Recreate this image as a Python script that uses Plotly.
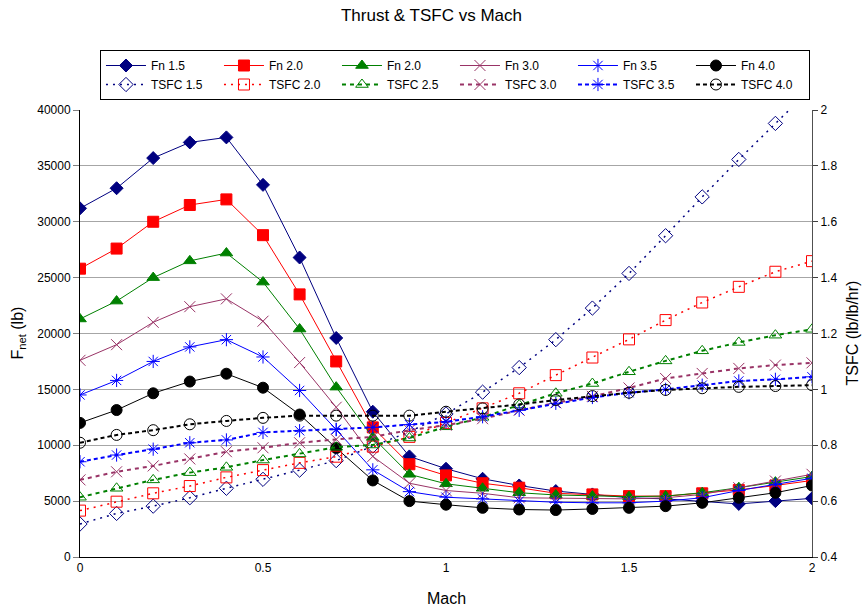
import plotly.graph_objects as go

mach = [0.0, 0.1, 0.2, 0.3, 0.4, 0.5, 0.6, 0.7, 0.8, 0.9, 1.0,
        1.1, 1.2, 1.3, 1.4, 1.5, 1.6, 1.7, 1.8, 1.9, 2.0]

fn_15 = [31200, 33000, 35700, 37100, 37550, 33300, 26800, 19600, 13000, 9000, 7900,
         7000, 6400, 5900, 5600, 5300, 5200, 4950, 4750, 5000, 5250]
fn_20 = [25800, 27600, 30000, 31500, 32000, 28800, 23500, 17500, 11600, 8300, 7300,
         6600, 6200, 5700, 5600, 5450, 5450, 5700, 6000, 6400, 6850]
fn_25 = [21300, 22900, 25000, 26500, 27200, 24600, 20400, 15200, 10700, 7400, 6550,
         6150, 5750, 5550, 5450, 5400, 5450, 5750, 6200, 6700, 7200]
fn_30 = [17600, 19000, 21000, 22400, 23100, 21100, 17400, 13400, 9000, 6600, 5950,
         5700, 5300, 5250, 5200, 5200, 5300, 5600, 6200, 6800, 7400]
fn_35 = [14500, 15800, 17500, 18800, 19450, 17900, 14900, 11400, 7800, 5850, 5350,
         5200, 5000, 4900, 4850, 4850, 5000, 5300, 5950, 6500, 7050]
fn_40 = [12000, 13150, 14650, 15700, 16400, 15150, 12750, 9750, 6850, 5000, 4680,
         4400, 4250, 4200, 4300, 4400, 4550, 4850, 5300, 5750, 6400]

tsfc_15 = [0.518, 0.556, 0.582, 0.612, 0.646, 0.678, 0.711, 0.745, 0.797, 0.848, 0.912,
           0.990, 1.078, 1.178, 1.291, 1.415, 1.550, 1.689, 1.823, 1.952, 2.080]
tsfc_20 = [0.566, 0.598, 0.628, 0.654, 0.685, 0.711, 0.737, 0.759, 0.795, 0.830, 0.880,
           0.932, 0.986, 1.051, 1.114, 1.179, 1.248, 1.311, 1.367, 1.421, 1.459]
tsfc_25 = [0.614, 0.646, 0.676, 0.702, 0.721, 0.747, 0.769, 0.793, 0.801, 0.826, 0.866,
           0.900, 0.944, 0.986, 1.021, 1.063, 1.102, 1.138, 1.168, 1.194, 1.215]
tsfc_30 = [0.676, 0.705, 0.726, 0.751, 0.777, 0.791, 0.809, 0.821, 0.830, 0.854, 0.872,
           0.895, 0.925, 0.952, 0.975, 1.005, 1.039, 1.057, 1.075, 1.087, 1.095]
tsfc_35 = [0.741, 0.765, 0.786, 0.809, 0.819, 0.846, 0.852, 0.857, 0.864, 0.874, 0.884,
           0.902, 0.925, 0.950, 0.971, 0.988, 1.000, 1.015, 1.030, 1.036, 1.045]
tsfc_40 = [0.809, 0.837, 0.854, 0.875, 0.887, 0.898, 0.906, 0.906, 0.906, 0.906, 0.920,
           0.932, 0.946, 0.962, 0.976, 0.988, 0.998, 1.004, 1.009, 1.012, 1.015]

fn_names = ["Fn 1.5", "Fn 2.0", "Fn 2.0", "Fn 3.0", "Fn 3.5", "Fn 4.0"]
tsfc_names = ["TSFC 1.5", "TSFC 2.0", "TSFC 2.5", "TSFC 3.0", "TSFC 3.5", "TSFC 4.0"]
fn_series = [fn_15, fn_20, fn_25, fn_30, fn_35, fn_40]
tsfc_series = [tsfc_15, tsfc_20, tsfc_25, tsfc_30, tsfc_35, tsfc_40]

colors = ["#000080", "#FF0000", "#008000", "#993366", "#0000FF", "#000000"]
fn_symbols = ["diamond", "square", "triangle-up", "x-thin", "asterisk", "circle"]
fn_sizes = [10, 11, 11, 11, 11, 11]
tsfc_symbols = ["diamond-open", "square-open", "triangle-up-open", "x-thin-open",
                "asterisk-open", "circle-open"]
tsfc_dash = ["2px,5px", "2px,5px", "4px,4px", "4px,4px", "4px,3px", "4px,3px"]
tsfc_lw = [1.5, 1.5, 2, 2, 2, 2]

fig = go.Figure()
for name, ys, c, s, sz in zip(fn_names, fn_series, colors, fn_symbols, fn_sizes):
    fig.add_trace(go.Scatter(
        x=mach, y=ys, name=name, mode="lines+markers",
        line=dict(color=c, width=1),
        marker=dict(symbol=s, size=sz, color=c, line=dict(color=c, width=1)),
        yaxis="y"))
for name, ys, c, s, d, lw in zip(tsfc_names, tsfc_series, colors, tsfc_symbols, tsfc_dash, tsfc_lw):
    fig.add_trace(go.Scatter(
        x=mach, y=ys, name=name, mode="lines+markers",
        line=dict(color=c, width=lw, dash=d),
        marker=dict(symbol=s, size=11, color=c, line=dict(color=c, width=1)),
        yaxis="y2"))

font = "Liberation Sans, Arial, sans-serif"
pw, ph = 863 - 80 - 51, 614 - 110 - 57
fig.update_layout(
    width=863, height=614,
    margin=dict(l=80, r=51, t=110, b=57, autoexpand=False),
    paper_bgcolor="white", plot_bgcolor="white",
    font=dict(family=font, size=12, color="black"),
    title=dict(text="Thrust & TSFC vs Mach", x=0.5, xref="container", xanchor="center",
               y=1, yref="container", yanchor="top", pad=dict(t=9),
               font=dict(size=17, family=font, color="black")),
    xaxis=dict(range=[0, 2], dtick=0.5, showgrid=False, zeroline=False, automargin=False,
               showline=True, linecolor="black", linewidth=1, ticks="",
               tickfont=dict(size=12)),
    yaxis=dict(range=[0, 40000], dtick=5000, tickformat="d", showgrid=True,
               gridcolor="#a6a6a6", gridwidth=1, automargin=False,
               zeroline=False, showline=True, linecolor="black", linewidth=1,
               ticks="outside", ticklen=6, tickcolor="#808080",
               tickfont=dict(size=12)),
    yaxis2=dict(range=[0.4, 2], dtick=0.2, overlaying="y", side="right", showgrid=False,
                zeroline=False, showline=True, linecolor="#505050", linewidth=1,
                automargin=False,
                ticks="outside", ticklen=5, tickcolor="#404040",
                tickfont=dict(size=12)),
    legend=dict(orientation="h", x=0.0273, y=(557 - 50) / ph, xanchor="left", yanchor="top",
                bordercolor="black", borderwidth=1, bgcolor="white",
                font=dict(size=12), itemwidth=40, entrywidth=63, entrywidthmode="pixels",
                traceorder="normal"),
    showlegend=True,
    annotations=[
        dict(text="Mach", xref="paper", yref="paper", x=0.5, y=-(598 - 557) / ph,
             xanchor="center", yanchor="middle", showarrow=False, font=dict(size=16)),
        dict(text="F<sub>net</sub> (lb)", textangle=-90, xref="paper", yref="paper",
             x=-(80 - 18) / pw, y=0.5, xanchor="center", yanchor="middle",
             showarrow=False, font=dict(size=16)),
        dict(text="TSFC (lb/lb/hr)", textangle=-90, xref="paper", yref="paper",
             x=1 + (852 - 812) / pw, y=0.5, xanchor="center", yanchor="middle",
             showarrow=False, font=dict(size=16)),
    ],
)

fig.write_html("out.html", config={"displayModeBar": False},
               post_script="document.body.style.margin='0';document.body.style.overflow='hidden';")
